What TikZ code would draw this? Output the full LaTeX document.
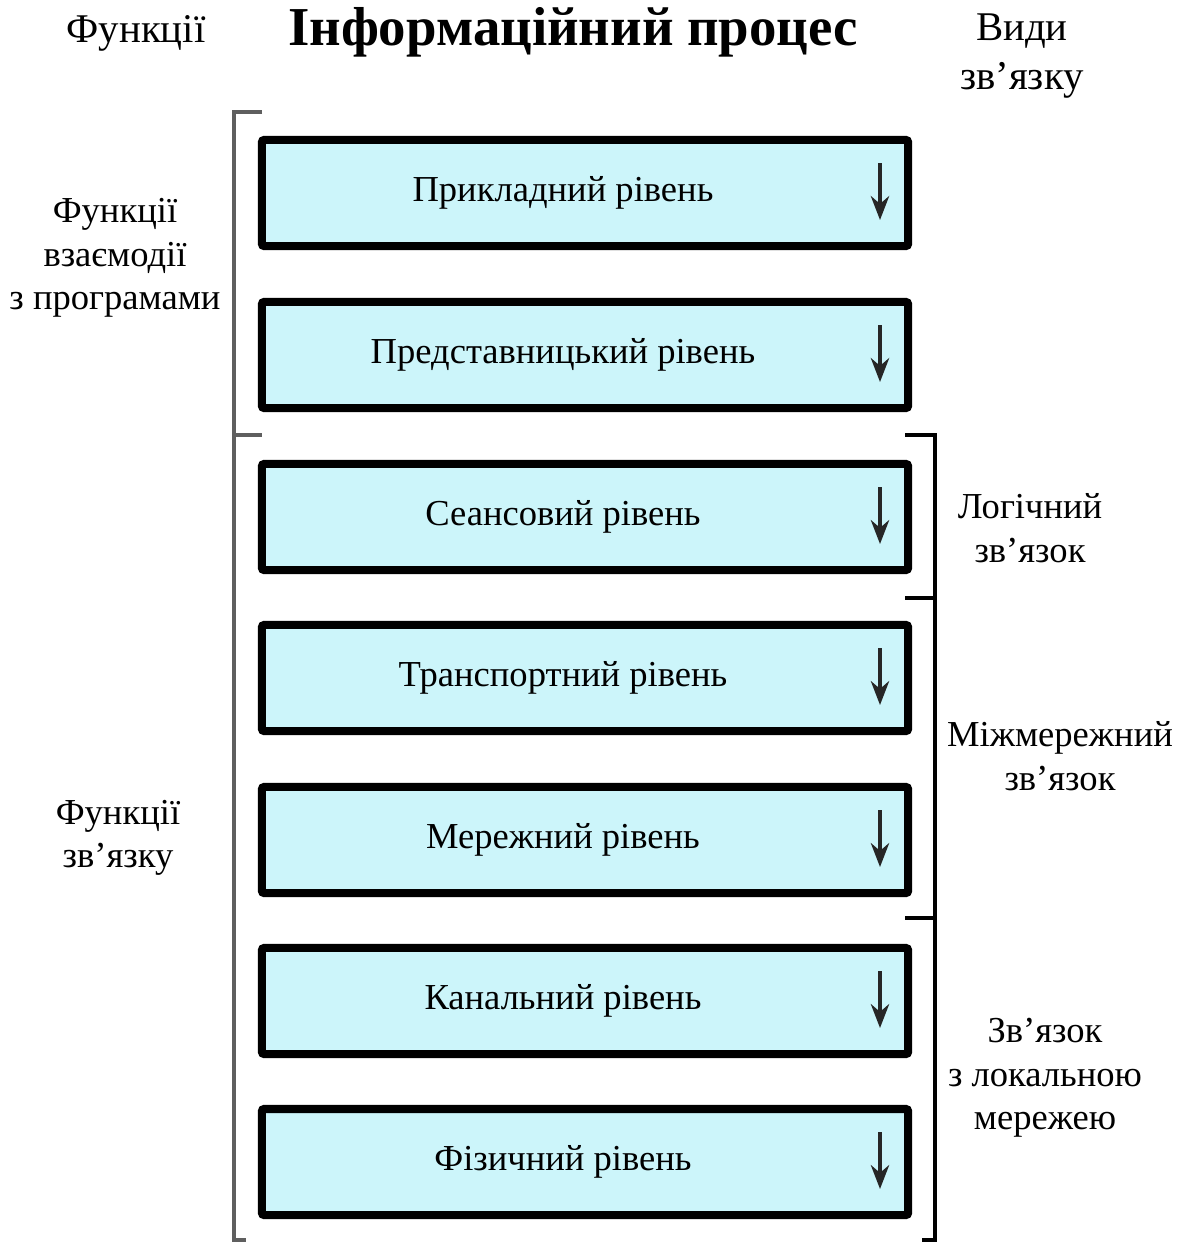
\documentclass[tikz,border=0pt]{standalone}
\usepackage{fontspec}
\setmainfont{Liberation Serif}
\usepackage{tikz}
\usetikzlibrary{arrows.meta,positioning}
\usepackage{xcolor}
\definecolor{boxfill}{RGB}{204,245,250}
\definecolor{brgray}{RGB}{95,95,95}

\begin{document}
\begin{tikzpicture}[x=0.025cm, y=-0.025cm,
    layer/.style={draw, line width=0.2cm, rounded corners=1.5pt, fill=boxfill,
        minimum width=16.15cm, minimum height=2.65cm, font=\fontsize{26}{30}\selectfont,
        execute at end node={\hspace*{1.1cm}}},
    lbl/.style={align=center, font=\fontsize{26}{31}\selectfont, inner sep=0pt},
    head/.style={align=center, font=\fontsize{29}{35}\selectfont, inner sep=0pt},
    down/.style={-{Stealth[length=17pt, width=13pt]}, line width=2.6pt, black!85}]
    \useasboundingbox (0,0) rectangle (1180,1242);

    % Headings
    \node[head] (hfun) at (136,33) {Функції};
    \node[font=\fontsize{39}{44}\selectfont\bfseries, inner sep=0pt] (title) at (573,32) {Інформаційний процес};
    \node[head] (hvid) at (1022,56) {Види\\зв’язку};

    % Layer boxes
    \node[layer] (b1) at (585,193) {Прикладний рівень};
    \node[layer] (b2) at (585,355) {Представницький рівень};
    \node[layer] (b3) at (585,517) {Сеансовий рівень};
    \node[layer] (b4) at (585,678) {Транспортний рівень};
    \node[layer] (b5) at (585,840) {Мережний рівень};
    \node[layer] (b6) at (585,1001) {Канальний рівень};
    \node[layer] (b7) at (585,1162) {Фізичний рівень};

    % Arrows inside boxes
    \foreach \b in {b1,b2,b3,b4,b5,b6,b7}
        \draw[down] ([shift={(295,-30)}]\b.center) -- ([shift={(295,27)}]\b.center);

    % Left brackets
    \draw[brgray, line width=2.2pt] (262,112) -- (234,112) -- (234,1240) -- (246,1240);
    \draw[brgray, line width=2.2pt] (234,435) -- (262,435);

    % Right brackets
    \draw[line width=2.2pt] (905,435) -- (935,435) -- (935,1240) -- (922,1240);
    \draw[line width=2.2pt] (905,598) -- (935,598);
    \draw[line width=2.2pt] (905,918) -- (935,918);

    % Function labels
    \node[lbl] (fvz) at (115,258) {Функції\\взаємодії\\з програмами};
    \node[lbl] (fzv) at (118,838) {Функції\\зв’язку};

    % Link kinds
    \node[lbl] (log) at (1030,528) {Логічний\\зв’язок};
    \node[lbl] (mizh) at (1060,756) {Міжмережний\\зв’язок};
    \node[lbl] (lok) at (1045,1078) {Зв’язок\\з локальною\\мережею};
\end{tikzpicture}
\end{document}
